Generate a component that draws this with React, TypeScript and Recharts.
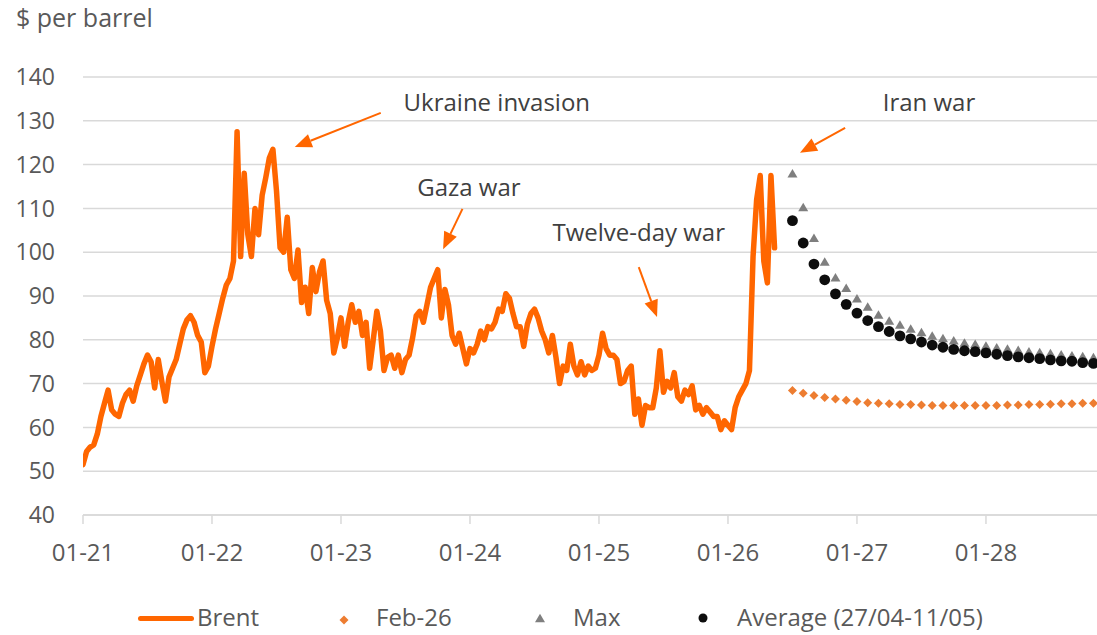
import React from 'react';
import {
  ComposedChart,
  Line,
  Scatter,
  XAxis,
  YAxis,
  CartesianGrid,
  Legend,
  ReferenceLine,
  ReferenceDot,
} from 'recharts';

// Brent, one reading every ten days (three a month), starting each January
const brent2021 = [51.5, 54.5, 55.5, 56, 58.5, 62.5, 65.5, 68.5, 64, 63, 62.5, 65.5, 67.5, 68.5, 66, 69.5, 72, 74.5, 76.5, 75, 69, 75.5, 70.5, 66, 71.5, 73.5, 75.5, 79, 82.5, 84.5, 85.5, 84, 81, 79.5, 72.5, 74];
const brent2022 = [78.5, 82.5, 86, 89.5, 92.5, 94, 98, 127.5, 99, 118, 104, 99, 110, 104, 113, 117, 121.5, 123.5, 114, 101, 100, 108, 96, 94, 100.5, 88.5, 92, 86, 96.5, 91, 95.5, 98, 89, 86, 77, 80.5];
const brent2023 = [85, 78.5, 84, 88, 84, 86.5, 81, 84, 73.5, 80, 86.5, 82, 73, 76, 76.5, 73.5, 76.5, 72.5, 75.5, 76.5, 80.5, 85.5, 86.5, 84, 88, 92, 94, 96, 85, 91.5, 88, 81, 79, 81.5, 78, 74.5];
const brent2024 = [78, 77, 79, 82, 80, 83, 82.5, 84, 87, 86.5, 90.5, 89.5, 86, 83, 83, 78.5, 83.5, 86, 87, 85, 82, 80, 77, 81, 76, 70, 74, 73, 79, 74, 72, 75, 72, 74, 73, 73.5];
const brent2025 = [76.5, 81.5, 78, 76.5, 76.5, 75.5, 70, 70.5, 73, 74, 63, 66.5, 60.5, 65, 64.5, 64.5, 69, 77.5, 68, 70.5, 69, 72.5, 67, 66, 68.5, 67.5, 69.5, 64, 65, 63, 64.5, 63.5, 62.5, 62.5, 59.5, 61.5];
const brent2026 = [60.5, 59.5, 64.5, 67, 68.5, 70, 73, 99, 112, 117.5, 98, 93, 117.5, 101];

// futures paths, monthly from 07-26 to 11-28
const feb26Path = [68.4, 67.8, 67.3, 66.8, 66.5, 66.2, 65.9, 65.6, 65.5, 65.4, 65.2, 65.2, 65.1, 65.0, 65.0, 65.0, 65.0, 65.0, 65.0, 65.0, 65.1, 65.1, 65.2, 65.2, 65.3, 65.4, 65.4, 65.5, 65.5];
const maxPath = [118.0, 110.3, 103.3, 97.9, 94.3, 91.9, 89.5, 87.6, 85.8, 84.4, 83.5, 82.6, 81.8, 81.0, 80.4, 79.9, 79.4, 79.1, 78.7, 78.3, 78.0, 77.7, 77.4, 77.2, 77.0, 76.7, 76.5, 76.3, 76.1];
const avgPath = [107.2, 102.1, 97.3, 93.7, 90.5, 88.1, 86.1, 84.4, 83.0, 81.9, 80.9, 80.2, 79.5, 78.8, 78.3, 77.8, 77.5, 77.3, 77.0, 76.7, 76.4, 76.1, 75.9, 75.7, 75.4, 75.2, 75.1, 74.8, 74.6];

const yearLabels = ['01-21', '01-22', '01-23', '01-24', '01-25', '01-26', '01-27', '01-28'];
const yTicks = [40, 50, 60, 70, 80, 90, 100, 110, 120, 130, 140];

// x is months since Jan 2021
const brentYears = [brent2021, brent2022, brent2023, brent2024, brent2025, brent2026];
const brentData = brentYears.flatMap((vals, y) => vals.map((v, i) => ({ m: y * 12 + i / 3, v })));
const futuresStart = 66;
const toMonthly = (vals: number[]) => vals.map((v, i) => ({ m: futuresStart + i, v }));
const feb26Data = toMonthly(feb26Path);
const maxData = toMonthly(maxPath);
const avgData = toMonthly(avgPath);

const xTicks = yearLabels.map((_, i) => i * 12);

const FONT = '"Open Sans", "Noto Sans", sans-serif';
const ORANGE = '#ff6600';
const FEB = '#ed7d31';
const GREY = '#7f7f7f';
const BLACK = '#0d0d0d';
const TXT = '#595959';

const notes = [
  { text: 'Ukraine invasion', m: 38.5, v: 134.5 },
  { text: 'Gaza war', m: 35.9, v: 114.9 },
  { text: 'Twelve-day war', m: 51.7, v: 104.8 },
  { text: 'Iran war', m: 78.7, v: 134.5 },
];
const arrows = [
  [{ x: 27.7, y: 131.8 }, { x: 19.7, y: 124.0 }],
  [{ x: 35.3, y: 109.9 }, { x: 33.5, y: 100.7 }],
  [{ x: 51.7, y: 96.6 }, { x: 53.4, y: 85.2 }],
  [{ x: 70.9, y: 128.4 }, { x: 66.7, y: 122.7 }],
];

const Arrow = (p: any) => {
  const { x1, y1, x2, y2 } = p;
  const dx = x2 - x1;
  const dy = y2 - y1;
  const len = Math.hypot(dx, dy) || 1;
  const ux = dx / len;
  const uy = dy / len;
  const head = 17;
  const half = 7;
  const bx = x2 - ux * head;
  const by = y2 - uy * head;
  const pts = `${x2},${y2} ${bx - uy * half},${by + ux * half} ${bx + uy * half},${by - ux * half}`;
  return (
    <g>
      <line x1={x1} y1={y1} x2={bx} y2={by} stroke={ORANGE} strokeWidth={2} />
      <polygon points={pts} fill={ORANGE} />
    </g>
  );
};

const triangle = (cx: number, cy: number, w: number, h: number) =>
  `${cx},${cy - h / 2} ${cx + w / 2},${cy + h / 2} ${cx - w / 2},${cy + h / 2}`;
const diamond = (cx: number, cy: number, r: number) =>
  `${cx},${cy - r} ${cx + r},${cy} ${cx},${cy + r} ${cx - r},${cy}`;

const Diamond = (p: any) => <polygon points={diamond(p.cx, p.cy, 4.5)} fill={FEB} />;
const Triangle = (p: any) => <polygon points={triangle(p.cx, p.cy, 10, 8.5)} fill={GREY} />;
const Dot = (p: any) => <circle cx={p.cx} cy={p.cy} r={5.4} fill={BLACK} />;

const legendText: React.CSSProperties = {
  position: 'absolute',
  top: 5,
  fontSize: 24,
  lineHeight: '24px',
  color: TXT,
  fontFamily: FONT,
  whiteSpace: 'nowrap',
};

const LegendRow = () => (
  <div style={{ position: 'relative', width: 1097, height: 33 }}>
    <div style={{ position: 'absolute', left: 138, top: 16, width: 56, height: 5, borderRadius: 3, background: ORANGE }} />
    <span style={{ ...legendText, left: 197 }}>Brent</span>
    <svg style={{ position: 'absolute', left: 337, top: 13 }} width={14} height={14}>
      <polygon points={diamond(7, 7, 4.5)} fill={FEB} />
    </svg>
    <span style={{ ...legendText, left: 376 }}>Feb-26</span>
    <svg style={{ position: 'absolute', left: 533, top: 11 }} width={14} height={14}>
      <polygon points={triangle(7, 7, 10, 8.5)} fill={GREY} />
    </svg>
    <span style={{ ...legendText, left: 573 }}>Max</span>
    <svg style={{ position: 'absolute', left: 696, top: 11 }} width={14} height={14}>
      <circle cx={7} cy={7} r={4.5} fill={BLACK} />
    </svg>
    <span style={{ ...legendText, left: 737 }}>Average (27/04-11/05)</span>
  </div>
);

const App = () => {
  return (
    <div style={{ position: 'absolute', left: 0, top: 0, width: 1097, height: 635, overflow: 'hidden', background: '#fff', fontFamily: FONT }}>
      <div style={{ position: 'absolute', left: 16, top: 5, fontSize: 25, lineHeight: '25px', color: TXT }}>$ per barrel</div>
      <ComposedChart width={1097} height={635} margin={{ top: 77, right: 0, bottom: 60, left: 0 }}>
        <CartesianGrid vertical={false} stroke="#d9d9d9" strokeWidth={1.5} />
        <XAxis
          type="number"
          dataKey="m"
          domain={[0, 94.33]}
          ticks={xTicks}
          tickFormatter={(m: number) => yearLabels[Math.round(m / 12)]}
          height={60}
          stroke="#d9d9d9"
          strokeWidth={1.5}
          tickSize={9}
          tickMargin={20}
          tick={{ fill: TXT, fontSize: 24, fontFamily: FONT }}
          allowDataOverflow
        />
        <YAxis
          type="number"
          domain={[40, 140]}
          ticks={yTicks}
          width={83}
          axisLine={false}
          tickLine={false}
          tickMargin={22}
          tick={{ fill: TXT, fontSize: 23, fontFamily: FONT }}
          allowDataOverflow
        />
        <Line
          data={brentData}
          dataKey="v"
          name="Brent"
          stroke={ORANGE}
          strokeWidth={5.5}
          strokeLinejoin="round"
          strokeLinecap="round"
          dot={false}
          activeDot={false}
          isAnimationActive={false}
        />
        <Scatter data={feb26Data} dataKey="v" name="Feb-26" shape={Diamond} isAnimationActive={false} />
        <Scatter data={maxData} dataKey="v" name="Max" shape={Triangle} isAnimationActive={false} />
        <Scatter data={avgData} dataKey="v" name="Average (27/04-11/05)" shape={Dot} isAnimationActive={false} />
        {arrows.map((seg, i) => (
          <ReferenceLine key={'a' + i} segment={seg} shape={Arrow} ifOverflow="visible" />
        ))}
        {notes.map((n) => (
          <ReferenceDot
            key={n.text}
            x={n.m}
            y={n.v}
            r={0}
            ifOverflow="visible"
            shape={(p: any) => (
              <text x={p.cx} y={p.cy} textAnchor="middle" dominantBaseline="central" fill="#404040" fontSize={24} fontFamily={FONT}>
                {n.text}
              </text>
            )}
          />
        ))}
        <Legend
          layout="horizontal"
          verticalAlign="middle"
          align="center"
          wrapperStyle={{ top: 600, left: 0, width: 1097, height: 33 }}
          content={() => <LegendRow />}
        />
      </ComposedChart>
    </div>
  );
};

export default App;
